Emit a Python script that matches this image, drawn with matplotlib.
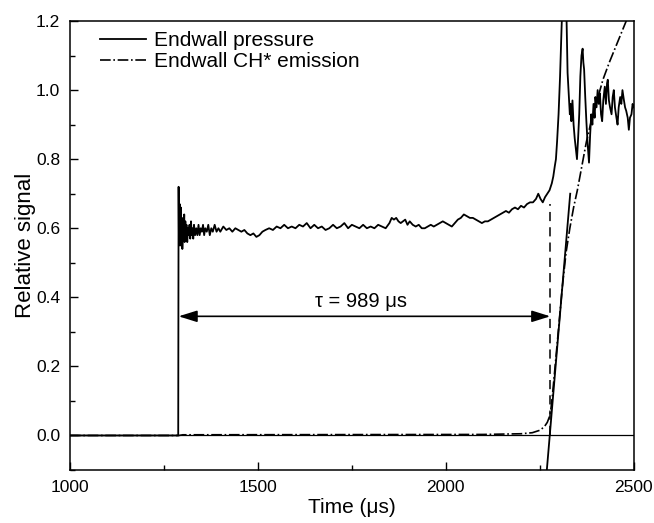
import matplotlib
matplotlib.use("Agg")
import matplotlib.pyplot as plt
from matplotlib.ticker import MultipleLocator, FormatStrFormatter

plt.rcParams['font.family'] = ['Liberation Sans', 'DejaVu Sans']

# Endwall pressure
t_pressure = [1000, 1288, 1289, 1290, 1292, 1293, 1295, 1296, 1298, 1299, 1301, 1302,
              1304, 1305, 1307, 1308, 1310, 1312, 1314, 1316, 1318, 1320, 1322, 1324,
              1326, 1328, 1330, 1333, 1336, 1339, 1342, 1345, 1348, 1351, 1354, 1357,
              1360, 1364, 1368, 1372, 1376, 1380, 1385, 1390, 1395, 1400, 1408, 1416,
              1424, 1432, 1440, 1448, 1456, 1464, 1472, 1480, 1488, 1496, 1504, 1512,
              1520, 1530, 1540, 1550, 1560, 1570, 1580, 1590, 1600, 1610, 1620, 1630,
              1640, 1650, 1660, 1670, 1680, 1690, 1700, 1710, 1720, 1730, 1740, 1750,
              1760, 1770, 1780, 1790, 1800, 1810, 1820, 1830, 1840, 1850, 1856, 1862,
              1868, 1874, 1880, 1886, 1892, 1898, 1904, 1912, 1920, 1928, 1936, 1944,
              1952, 1960, 1968, 1976, 1984, 1992, 2000, 2008, 2016, 2024, 2032, 2040,
              2048, 2056, 2064, 2072, 2080, 2088, 2096, 2104, 2112, 2120, 2128, 2136,
              2144, 2152, 2160, 2168, 2176, 2184, 2192, 2200, 2208, 2216, 2224, 2232,
              2240, 2246, 2252, 2258, 2264, 2270, 2276, 2282, 2286, 2290, 2293, 2296,
              2300, 2304, 2308, 2312, 2318, 2321, 2324, 2327, 2330, 2332, 2334, 2337,
              2340, 2343, 2346, 2349, 2352, 2355, 2358, 2361, 2364, 2366, 2368, 2371,
              2374, 2377, 2381, 2384, 2387, 2390, 2393, 2396, 2398, 2401, 2404, 2407,
              2410, 2413, 2416, 2419, 2423, 2426, 2429, 2431, 2434, 2437, 2441, 2444,
              2447, 2450, 2454, 2457, 2460, 2464, 2467, 2470, 2474, 2477, 2480, 2484,
              2487, 2490, 2494, 2497, 2500]
p_pressure = [0.0, 0.0, 0.72, 0.56, 0.67, 0.55, 0.66, 0.56, 0.63, 0.54, 0.62, 0.57,
              0.64, 0.56, 0.62, 0.57, 0.61, 0.56, 0.60, 0.58, 0.61, 0.57, 0.62, 0.58,
              0.60, 0.57, 0.61, 0.58, 0.60, 0.58, 0.61, 0.58, 0.60, 0.59, 0.61, 0.58,
              0.60, 0.59, 0.61, 0.58, 0.60, 0.59, 0.61, 0.59, 0.60, 0.59, 0.605, 0.595,
              0.60, 0.59, 0.60, 0.595, 0.59, 0.595, 0.585, 0.58, 0.585, 0.575, 0.58, 0.59,
              0.595, 0.60, 0.595, 0.605, 0.60, 0.61, 0.60, 0.605, 0.60, 0.61, 0.605, 0.615,
              0.60, 0.61, 0.60, 0.605, 0.595, 0.60, 0.61, 0.60, 0.605, 0.615, 0.60, 0.61,
              0.605, 0.60, 0.61, 0.60, 0.605, 0.60, 0.61, 0.605, 0.60, 0.615, 0.63, 0.625,
              0.63, 0.62, 0.615, 0.62, 0.625, 0.61, 0.62, 0.61, 0.605, 0.61, 0.60, 0.60,
              0.605, 0.61, 0.605, 0.61, 0.615, 0.62, 0.615, 0.61, 0.605, 0.615, 0.625, 0.63,
              0.64, 0.635, 0.63, 0.63, 0.625, 0.62, 0.615, 0.62, 0.62, 0.625, 0.63, 0.635,
              0.64, 0.645, 0.65, 0.645, 0.655, 0.66, 0.655, 0.665, 0.66, 0.67, 0.675, 0.675,
              0.685, 0.70, 0.685, 0.675, 0.69, 0.70, 0.71, 0.73, 0.75, 0.78, 0.80, 0.85,
              0.93, 1.04, 1.18, 1.30, 1.30, 1.22, 1.05, 0.99, 0.93, 0.96, 0.91, 0.97,
              0.90, 0.86, 0.83, 0.80, 0.86, 0.93, 1.04, 1.10, 1.12, 1.08, 1.06, 0.98,
              0.91, 0.85, 0.79, 0.87, 0.93, 0.90, 0.96, 0.92, 0.98, 0.95, 1.00, 0.96,
              0.99, 0.93, 0.91, 0.97, 1.01, 0.96, 1.02, 1.03, 0.97, 0.95, 0.93, 0.98,
              1.00, 0.95, 0.92, 0.90, 0.95, 0.98, 0.96, 1.00, 0.97, 0.95, 0.94, 0.92,
              0.885, 0.92, 0.93, 0.96, 0.95]

# Endwall CH* emission
t_ch = [1000, 1290, 1300, 2100, 2200, 2230, 2250, 2262, 2270, 2276, 2280, 2284,
        2290, 2300, 2310, 2320, 2330, 2340, 2350, 2362, 2374, 2387, 2400, 2418,
        2435, 2450, 2465, 2480, 2500]
s_ch = [0.0, 0.0, 0.002, 0.003, 0.005, 0.008, 0.015, 0.025, 0.038, 0.055, 0.08, 0.12,
        0.19, 0.31, 0.43, 0.53, 0.60, 0.66, 0.71, 0.78, 0.85, 0.91, 0.96, 1.03,
        1.08, 1.12, 1.16, 1.20, 1.25]

# tangent to the CH* rise and ignition-delay markers
tangent_t = [2268, 2331]
tangent_s = [-0.11, 0.70]
t_start = 1289
t_ign = 2278
marker_top = 0.67
arrow_y = 0.345

fig = plt.figure(figsize=(6.54, 5.23), dpi=100)
ax = fig.add_axes([0.107, 0.1013, 0.862, 0.8585])

ax.axhline(0, color='black', linewidth=0.9)
ax.plot(t_pressure, p_pressure, color='black', linewidth=1.3, label='Endwall pressure')
ax.plot(t_ch, s_ch, color='black', linewidth=1.2, linestyle='-.', label='Endwall CH* emission')
ax.plot(tangent_t, tangent_s, color='black', linewidth=1.3)
ax.plot([t_ign, t_ign], [0, marker_top], color='black', linewidth=1.1, linestyle=(0, (6, 4)))

ax.annotate('', xy=(t_start, arrow_y), xytext=(t_ign, arrow_y),
            arrowprops=dict(arrowstyle='<|-|>,head_length=0.8,head_width=0.25',
                            color='black', lw=1.2, mutation_scale=14, shrinkA=0, shrinkB=0))
ax.text((t_start + t_ign) / 2 - 10, arrow_y + 0.015, 'τ = 989 μs', ha='center', va='bottom',
        fontsize=14.5)

ax.set_xlim(1000, 2500)
ax.set_ylim(-0.1, 1.2)
ax.xaxis.set_major_locator(MultipleLocator(500))
ax.xaxis.set_minor_locator(MultipleLocator(250))
ax.yaxis.set_major_locator(MultipleLocator(0.2))
ax.yaxis.set_minor_locator(MultipleLocator(0.1))
ax.yaxis.set_major_formatter(FormatStrFormatter('%.1f'))
ax.tick_params(which='both', direction='in', top=False, right=False, labelsize=12.5, width=1)
ax.tick_params(which='major', length=6, pad=7)
ax.tick_params(which='minor', length=3.5)
for sp in ax.spines.values():
    sp.set_linewidth(1.1)

ax.set_xlabel('Time (μs)', fontsize=15, labelpad=2)
ax.set_ylabel('Relative signal', fontsize=16, labelpad=0)

ax.legend(loc='upper left', bbox_to_anchor=(0.02, 1.02), frameon=False, fontsize=15,
          handlelength=2.2, handletextpad=0.4, labelspacing=0.1)

fig.savefig('out.png', dpi=100)
